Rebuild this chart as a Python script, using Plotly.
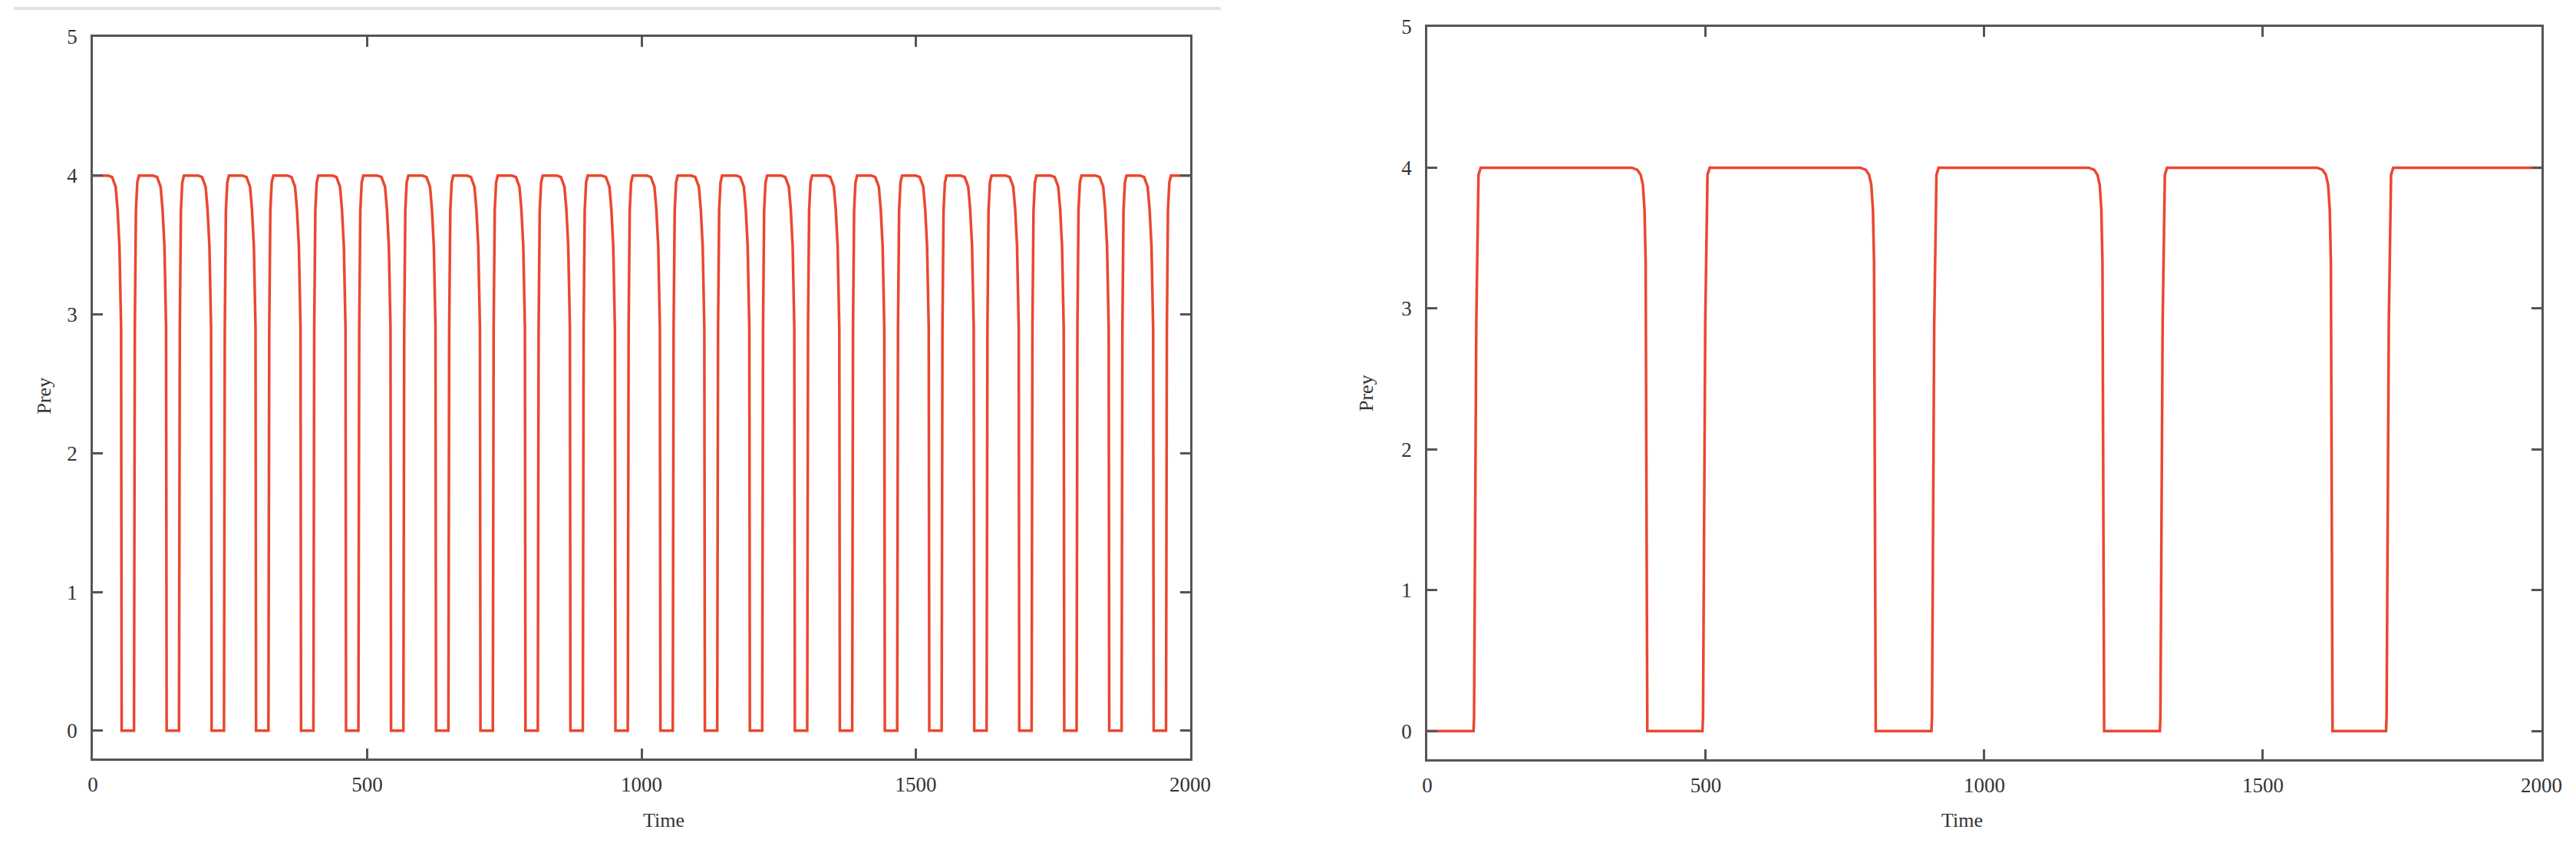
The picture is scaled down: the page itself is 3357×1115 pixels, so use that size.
#!/usr/bin/env python3

# Libraries
import plotly.graph_objects as go

# Left panel: times where Prey drops to 0 and where it rises again
fast_fall = [52, 134, 216, 297, 379, 461, 543, 625, 706, 788, 870, 952,
             1034, 1115, 1197, 1279, 1361, 1443, 1524, 1606, 1688, 1770, 1852, 1933]
fast_rise = [75, 157, 239, 320, 402, 484, 566, 648, 729, 811, 893, 975,
             1057, 1138, 1220, 1302, 1384, 1466, 1547, 1629, 1711, 1793, 1875, 1956]

# Shape of one edge in the left panel (time offset, Prey)
fast_fall_dt = [-24, -17, -10.5, -7, -3.5, -0.5, 0.5]
fast_fall_y  = [4.0, 3.99, 3.92, 3.76, 3.49, 2.9, 0.0]
fast_rise_dt = [0, 1.5, 3.5, 6, 9]
fast_rise_y  = [0.0, 2.9, 3.75, 3.95, 4.0]

# Right panel: times of the rises and falls
slow_rise = [83, 494, 905, 1315, 1721]
slow_fall = [395, 805, 1215, 1625]

# Shape of one edge in the right panel (time offset, Prey)
slow_fall_dt = [-28, -18, -12, -8, -5, -3, 0]
slow_fall_y  = [4.0, 3.985, 3.95, 3.88, 3.70, 3.33, 0.0]
slow_rise_dt = [0, 1, 5, 9, 13]
slow_rise_y  = [0.0, 0.1, 2.9, 3.95, 4.0]

t_end = 2000

# Build left series
x_fast = [0]
y_fast = [4.0]
for tf, tr in zip(fast_fall, fast_rise):
    x_fast += [tf + d for d in fast_fall_dt]
    y_fast += fast_fall_y
    x_fast += [tr + d for d in fast_rise_dt]
    y_fast += fast_rise_y
x_fast.append(t_end)
y_fast.append(4.0)

# Build right series
x_slow = [0]
y_slow = [0.0]
for i, tr in enumerate(slow_rise):
    x_slow += [tr + d for d in slow_rise_dt]
    y_slow += slow_rise_y
    if i < len(slow_fall):
        x_slow += [slow_fall[i] + d for d in slow_fall_dt]
        y_slow += slow_fall_y
x_slow.append(t_end)
y_slow.append(4.0)

line_color  = '#EA4830'
frame_color = '#555555'
font_name   = 'Liberation Serif'

# Create figure
fig = go.Figure()

fig.add_trace(go.Scatter(x = x_fast, y = y_fast, mode = 'lines',
                         line = dict(color = line_color, width = 3.5),
                         xaxis = 'x', yaxis = 'y', showlegend = False))
fig.add_trace(go.Scatter(x = x_slow, y = y_slow, mode = 'lines',
                         line = dict(color = line_color, width = 3.5),
                         xaxis = 'x2', yaxis = 'y2', showlegend = False))

# Common axis style
def axis_style(rng, dtick, standoff):
    return dict(
        range     = rng,
        tickmode  = 'linear',
        tick0     = 0,
        dtick     = dtick,
        showgrid  = False,
        zeroline  = False,
        showline  = True,
        linecolor = frame_color,
        linewidth = 2.5,
        mirror    = 'ticks',
        ticks     = 'inside',
        ticklen   = 13,
        tickwidth = 2.5,
        tickcolor = frame_color,
        ticklabelstandoff = standoff,
        tickfont  = dict(family = font_name, size = 27, color = '#333333')
    )

fig.update_layout(
    width  = 3357,
    height = 1115,

    xaxis  = dict(axis_style([0, 2000], 500, 8), domain = [0.03366, 0.45964], anchor = 'y'),
    yaxis  = dict(axis_style([-0.2, 5], 1, 12), domain = [0.12108, 0.96413], anchor = 'x'),
    xaxis2 = dict(axis_style([0, 2000], 500, 8), domain = [0.55168, 0.98421], anchor = 'y2'),
    yaxis2 = dict(axis_style([-0.2, 5], 1, 12), domain = [0.12018, 0.97578], anchor = 'x2'),

    annotations = [
        dict(text = 'Prey', x = 32 / 3357, y = 1 - 508 / 1115, xref = 'paper', yref = 'paper',
             textangle = -90, showarrow = False, font = dict(family = font_name, size = 26, color = '#333333')),
        dict(text = 'Prey', x = 1772 / 3357, y = 1 - 504 / 1115, xref = 'paper', yref = 'paper',
             textangle = -90, showarrow = False, font = dict(family = font_name, size = 26, color = '#333333')),
        dict(text = 'Time', x = 828 / 3357, y = 1 - 1077 / 1115, xref = 'paper', yref = 'paper',
             showarrow = False, font = dict(family = font_name, size = 26, color = '#333333')),
        dict(text = 'Time', x = 2578 / 3357, y = 1 - 1077 / 1115, xref = 'paper', yref = 'paper',
             showarrow = False, font = dict(family = font_name, size = 26, color = '#333333')),
    ],

    # light border left over at the top of the picture
    shapes = [
        dict(type = 'line', xref = 'paper', yref = 'paper',
             x0 = 10 / 3357, x1 = 1583 / 3357, y0 = 1 - 3 / 1115, y1 = 1 - 3 / 1115,
             line = dict(color = '#e2e2e2', width = 4))
    ],

    plot_bgcolor  = 'white',
    paper_bgcolor = 'white',
    margin = dict(l = 0, r = 0, t = 0, b = 0),
    template = None
)

fig.write_html('out.html')
